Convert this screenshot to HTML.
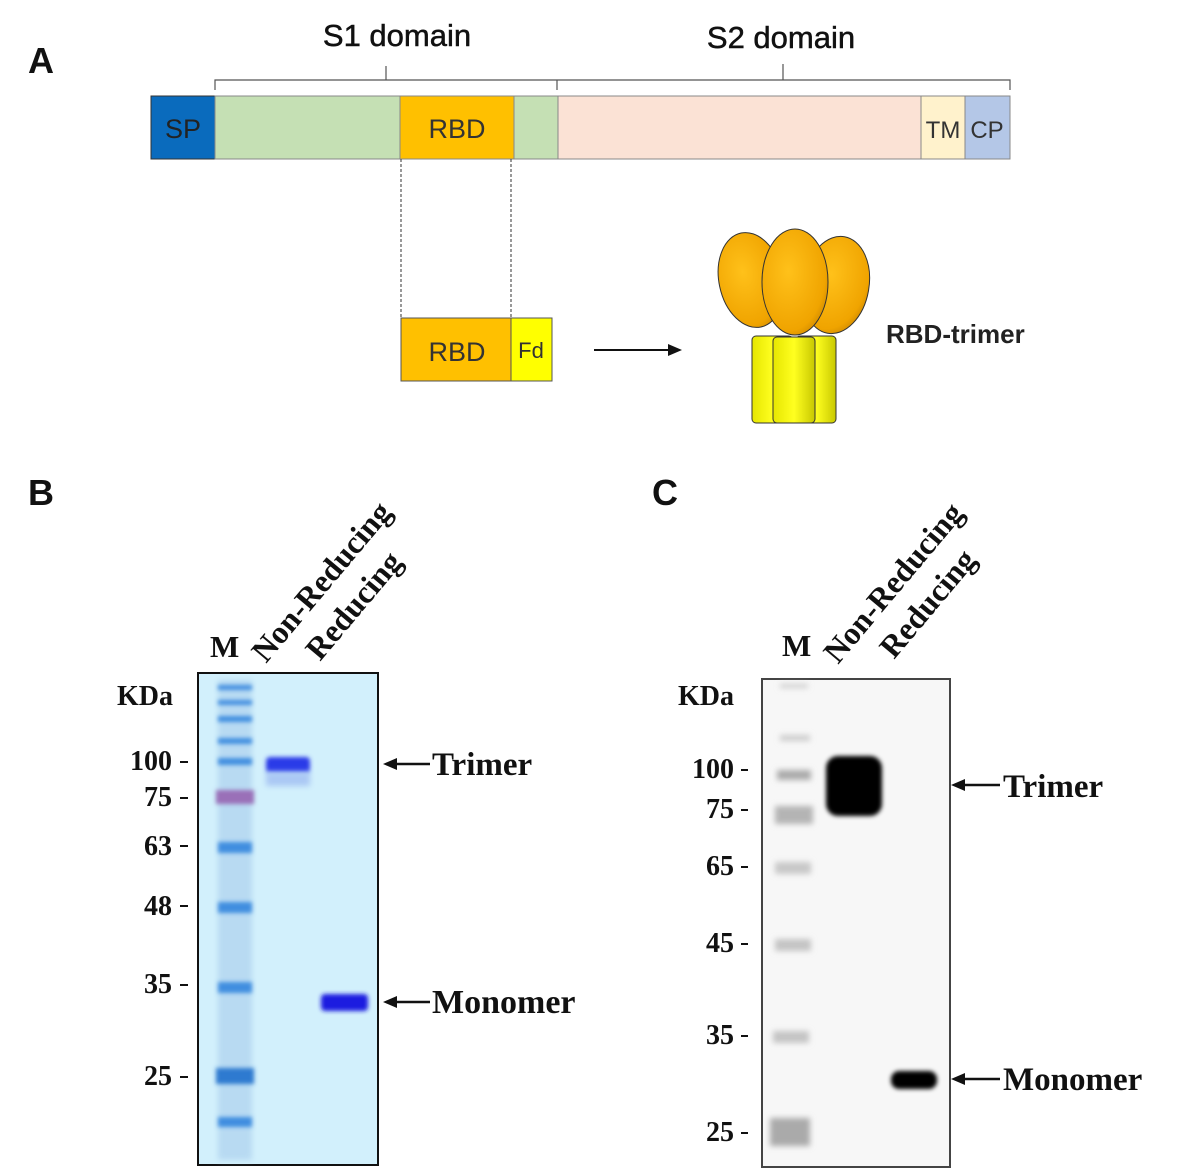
<!DOCTYPE html>
<html><head><meta charset="utf-8"><style>
html,body{margin:0;padding:0;background:#fff;width:1200px;height:1173px;overflow:hidden}
</style></head><body>
<svg width="1200" height="1173" viewBox="0 0 1200 1173" xmlns="http://www.w3.org/2000/svg">
<defs>
<filter id="b1" x="-50%" y="-50%" width="200%" height="200%"><feGaussianBlur stdDeviation="2"/></filter>
<filter id="b2" x="-50%" y="-50%" width="200%" height="200%"><feGaussianBlur stdDeviation="3"/></filter>
<radialGradient id="og" cx="40%" cy="40%" r="70%"><stop offset="0" stop-color="#ffc11a"/><stop offset="0.8" stop-color="#f0a400"/><stop offset="1" stop-color="#c98400"/></radialGradient>
<linearGradient id="yg" x1="0" x2="1"><stop offset="0" stop-color="#e6e600"/><stop offset="0.5" stop-color="#ffff20"/><stop offset="1" stop-color="#c8c800"/></linearGradient>
</defs>
<g font-family="'Liberation Sans',sans-serif">
<text x="28" y="73" font-size="36" font-weight="bold" fill="#111">A</text>
<text x="28" y="505" font-size="36" font-weight="bold" fill="#111">B</text>
<text x="652" y="505" font-size="36" font-weight="bold" fill="#111">C</text>
<text x="397" y="46" font-size="31" fill="#111" text-anchor="middle" stroke="#111" stroke-width="0.5">S1 domain</text>
<text x="781" y="48" font-size="31" fill="#111" text-anchor="middle" stroke="#111" stroke-width="0.5">S2 domain</text>
<path d="M215,90 V80 H557 V90 M386,80 V66 M557,80 H1010 V90 M783,80 V64" fill="none" stroke="#555" stroke-width="1.2"/>
<rect x="151" y="96" width="64" height="63" fill="#0a6bbd" stroke="#333"/>
<rect x="215" y="96" width="185" height="63" fill="#c5e0b4" stroke="#888"/>
<rect x="400" y="96" width="114" height="63" fill="#ffc000" stroke="#888"/>
<rect x="514" y="96" width="44" height="63" fill="#c5e0b4" stroke="#888"/>
<rect x="558" y="96" width="363" height="63" fill="#fbe2d5" stroke="#888"/>
<rect x="921" y="96" width="44" height="63" fill="#fff2cc" stroke="#888"/>
<rect x="965" y="96" width="45" height="63" fill="#b4c7e7" stroke="#888"/>
<text x="183" y="138" font-size="27" fill="#222" text-anchor="middle">SP</text>
<text x="457" y="138" font-size="27" fill="#333" text-anchor="middle">RBD</text>
<text x="943" y="138" font-size="24" fill="#333" text-anchor="middle">TM</text>
<text x="987" y="138" font-size="24" fill="#333" text-anchor="middle">CP</text>
<path d="M401,159 V318 M511,159 V318" stroke="#333" stroke-dasharray="3,2"/>
<rect x="401" y="318" width="110" height="63" fill="#ffc000" stroke="#555"/>
<rect x="511" y="318" width="41" height="63" fill="#ffff00" stroke="#555"/>
<text x="457" y="361" font-size="27" fill="#333" text-anchor="middle">RBD</text>
<text x="531" y="358" font-size="22" fill="#333" text-anchor="middle">Fd</text>
<path d="M594,350 H670" stroke="#111" stroke-width="2"/><path d="M682,350 L668,344 L668,356Z" fill="#111"/>
<text x="886" y="343" font-size="26" font-weight="bold" fill="#222">RBD-trimer</text>
<rect x="752" y="336" width="41" height="87" rx="4" fill="url(#yg)" stroke="#333"/>
<rect x="796" y="336" width="40" height="87" rx="4" fill="url(#yg)" stroke="#333"/>
<ellipse cx="751" cy="280" rx="32" ry="48" fill="url(#og)" stroke="#333" transform="rotate(-12 751 280)"/>
<ellipse cx="836" cy="285" rx="33" ry="49" fill="url(#og)" stroke="#333" transform="rotate(10 836 285)"/>
<rect x="773" y="337" width="42" height="86" rx="4" fill="url(#yg)" stroke="#333"/>
<ellipse cx="795" cy="282" rx="33" ry="53" fill="url(#og)" stroke="#333"/>
</g>
<g font-family="'Liberation Serif',serif" font-weight="bold" fill="#111">
<text x="210" y="657" font-size="31">M</text>
<text transform="translate(266,664) rotate(-50)" font-size="32">Non-Reducing</text>
<text transform="translate(320,662) rotate(-50)" font-size="32">Reducing</text>
<text x="117" y="705" font-size="28">KDa</text>
<g font-size="28" text-anchor="end">
<text x="172" y="770">100</text><text x="172" y="806">75</text><text x="172" y="855">63</text>
<text x="172" y="915">48</text><text x="172" y="993">35</text><text x="172" y="1085">25</text>
</g>
<path d="M180,762h8M180,798h8M180,846h8M180,906h8M180,985h8M180,1077h8" stroke="#111" stroke-width="2"/>
<text x="432" y="775" font-size="33">Trimer</text>
<text x="432" y="1013" font-size="34">Monomer</text>
<path d="M386,764H430M386,1002H430" stroke="#111" stroke-width="2.5"/>
<path d="M383,764l14,-6v12zM383,1002l14,-6v12z"/>

<text x="782" y="656" font-size="31">M</text>
<text transform="translate(838,665) rotate(-50)" font-size="32">Non-Reducing</text>
<text transform="translate(894,660) rotate(-50)" font-size="32">Reducing</text>
<text x="678" y="705" font-size="28">KDa</text>
<g font-size="28" text-anchor="end">
<text x="734" y="778">100</text><text x="734" y="818">75</text><text x="734" y="875">65</text>
<text x="734" y="952">45</text><text x="734" y="1044">35</text><text x="734" y="1141">25</text>
</g>
<path d="M741,770h7M741,810h7M741,867h7M741,944h7M741,1036h7M741,1133h7" stroke="#111" stroke-width="2"/>
<text x="1003" y="797" font-size="33">Trimer</text>
<text x="1003" y="1090" font-size="33">Monomer</text>
<path d="M955,785H1000M955,1079H1000" stroke="#111" stroke-width="2.5"/>
<path d="M951,785l14,-6v12zM951,1079l14,-6v12z"/>
</g>
<!-- gel B -->
<rect x="198" y="673" width="180" height="492" fill="#d2f0fc" stroke="#111" stroke-width="2"/>
<rect x="218" y="680" width="34" height="480" fill="#b8daf2" filter="url(#b2)"/>
<g fill="#3f8ee0" filter="url(#b1)">
<rect x="218" y="685" width="34" height="5"/><rect x="218" y="700" width="34" height="5"/>
<rect x="218" y="716" width="34" height="6"/><rect x="218" y="738" width="34" height="6"/>
<rect x="218" y="758" width="34" height="7"/>
<rect x="216" y="790" width="38" height="14" fill="#9a6fb8"/>
<rect x="218" y="842" width="34" height="11"/><rect x="218" y="902" width="34" height="11"/>
<rect x="218" y="982" width="34" height="11"/>
<rect x="216" y="1068" width="38" height="16" fill="#2f7ad0"/>
<rect x="218" y="1117" width="34" height="10"/>
</g>
<rect x="266" y="757" width="44" height="16" rx="4" fill="#2a3ae8" filter="url(#b1)"/>
<rect x="266" y="772" width="44" height="14" fill="#aac8f4" filter="url(#b2)"/>
<rect x="321" y="994" width="47" height="17" rx="4" fill="#1a1ae0" filter="url(#b1)"/>
<!-- blot C -->
<rect x="762" y="679" width="188" height="488" fill="#f7f7f7" stroke="#444" stroke-width="2"/>
<g filter="url(#b2)">
<rect x="780" y="684" width="28" height="4" fill="#ccc"/>
<rect x="780" y="735" width="30" height="6" fill="#ccc"/>
<rect x="777" y="770" width="34" height="10" fill="#aaa"/>
<rect x="775" y="806" width="38" height="18" fill="#b4b4b4"/>
<rect x="775" y="862" width="36" height="12" fill="#c8c8c8"/>
<rect x="775" y="939" width="36" height="12" fill="#c4c4c4"/>
<rect x="773" y="1031" width="36" height="12" fill="#c4c4c4"/>
<rect x="770" y="1118" width="40" height="28" fill="#aaa"/>
</g>
<rect x="826" y="756" width="56" height="60" rx="12" fill="#000" filter="url(#b1)"/>
<rect x="891" y="1071" width="46" height="18" rx="8" fill="#000" filter="url(#b1)"/>
</svg>
</body></html>
